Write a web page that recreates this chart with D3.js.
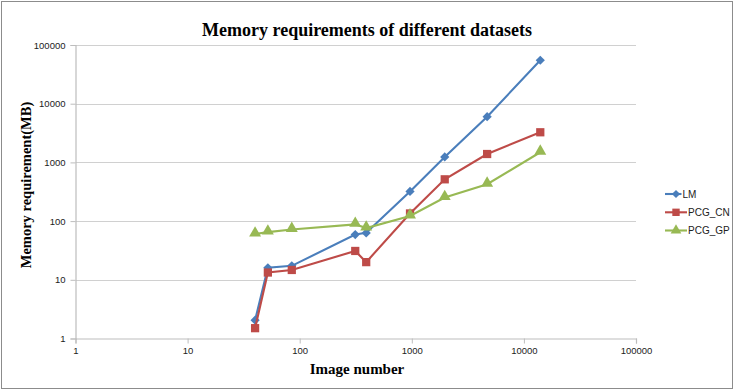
<!DOCTYPE html>
<html><head><meta charset="utf-8">
<script src="https://cdn.jsdelivr.net/npm/d3@7"></script>
<style>body{margin:0;background:#fff}svg{display:block}</style>
</head><body>
<svg id="c" width="735" height="392"></svg>
<script>
const imageNumbers = [40, 52, 85, 313, 392, 964, 1967, 4700, 14000];
const lmValues     = [2.05, 16, 17.3, 59, 63, 320, 1240, 6000, 55000];
const pcgCnValues  = [1.5, 13.3, 14.7, 31, 20, 135, 515, 1390, 3260];
const pcgGpValues  = [60, 65, 72, 88, 76, 122, 252, 425, 1490];
const seriesNames  = ["LM", "PCG_CN", "PCG_GP"];
const tickValues   = [1, 10, 100, 1000, 10000, 100000];

const colors = {"LM": "#4a7ebb", "PCG_CN": "#be4b48", "PCG_GP": "#98b954"};
const series = [
  {name: "LM", values: lmValues, sym: "diamond"},
  {name: "PCG_CN", values: pcgCnValues, sym: "square"},
  {name: "PCG_GP", values: pcgGpValues, sym: "triangle"}
];

const svg = d3.select("#c");
const L = 75.5, R = 636, T = 45, B = 338.5;
const x = d3.scaleLog().domain([1, 100000]).range([L, R]);
const y = d3.scaleLog().domain([1, 100000]).range([B, T]);

svg.append("rect").attr("x", 1.5).attr("y", 1.5).attr("width", 731).attr("height", 387)
  .attr("fill", "#fff").attr("stroke", "#8c8c8c").attr("stroke-width", 1);

svg.append("g").selectAll("line").data(tickValues.slice(1)).join("line")
  .attr("x1", L).attr("x2", R)
  .attr("y1", d => Math.round(y(d)) + 0.5).attr("y2", d => Math.round(y(d)) + 0.5)
  .attr("stroke", "#d0d0d0").attr("stroke-width", 1.2);

const fmt = d => String(d);
const xAxis = d3.axisBottom(x).tickValues(tickValues).tickFormat(fmt).tickSize(5).tickPadding(4);
const yAxis = d3.axisLeft(y).tickValues(tickValues).tickFormat(fmt).tickSize(5).tickPadding(5);

const gx = svg.append("g").attr("transform", `translate(0,${B})`).call(xAxis);
const gy = svg.append("g").attr("transform", `translate(${L},0)`).call(yAxis);
[gx, gy].forEach(g => {
  g.select(".domain").attr("stroke", "#bdbdbd").attr("stroke-width", 1.2);
  g.selectAll(".tick line").attr("stroke", "#bdbdbd");
  g.selectAll(".tick text").attr("fill", "#222").style("font-family", "'Liberation Sans', Arial, sans-serif").style("font-size", "9.5px");
});

const diamond = {draw(ctx, size) { const r = Math.sqrt(size) / 2 * 1.15; ctx.moveTo(0, -r); ctx.lineTo(r, 0); ctx.lineTo(0, r); ctx.lineTo(-r, 0); ctx.closePath(); }};
const symMap = {diamond: diamond, square: d3.symbolSquare, triangle: d3.symbolTriangle};
const symSize = {diamond: 64, square: 68, triangle: 62};

const line = d3.line().x(d => x(d[0])).y(d => y(d[1]));
series.forEach(s => {
  const pts = imageNumbers.map((n, i) => [n, s.values[i]]);
  svg.append("path").datum(pts).attr("d", line)
    .attr("fill", "none").attr("stroke", colors[s.name]).attr("stroke-width", 2.1);
  svg.append("g").selectAll("path").data(pts).join("path")
    .attr("transform", d => `translate(${x(d[0])},${y(d[1]) - (s.sym === "triangle" ? 1 : 0)})`)
    .attr("d", d3.symbol().type(symMap[s.sym]).size(symSize[s.sym]))
    .attr("fill", colors[s.name]);
});

const legY = [194, 212.3, 230.5];
series.forEach((s, i) => {
  const g = svg.append("g");
  const x2 = s.name === "LM" ? 681.5 : 687;
  g.append("line").attr("x1", 665).attr("x2", x2).attr("y1", legY[i]).attr("y2", legY[i])
    .attr("stroke", colors[s.name]).attr("stroke-width", 2.1);
  g.append("path").attr("transform", `translate(676,${legY[i]})`)
    .attr("d", d3.symbol().type(symMap[s.sym]).size(symSize[s.sym] * 0.8))
    .attr("fill", colors[s.name]);
  g.append("text").attr("x", x2 + 1).attr("y", legY[i] + 3.5).text(s.name)
    .attr("fill", "#222").style("font-family", "'Liberation Sans', Arial, sans-serif").style("font-size", "10px");
});

const serif = "'Liberation Serif', 'Times New Roman', serif";
svg.append("text").attr("x", 367).attr("y", 36).attr("text-anchor", "middle")
  .style("font-family", serif).style("font-weight", "bold").style("font-size", "18px")
  .text("Memory requirements of different datasets");
svg.append("text").attr("x", 357).attr("y", 374).attr("text-anchor", "middle")
  .style("font-family", serif).style("font-weight", "bold").style("font-size", "15px")
  .text("Image number");
svg.append("text").attr("transform", "translate(31,185) rotate(-90)").attr("text-anchor", "middle")
  .style("font-family", serif).style("font-weight", "bold").style("font-size", "14.5px")
  .text("Memory requirement(MB)");
</script>
</body></html>
